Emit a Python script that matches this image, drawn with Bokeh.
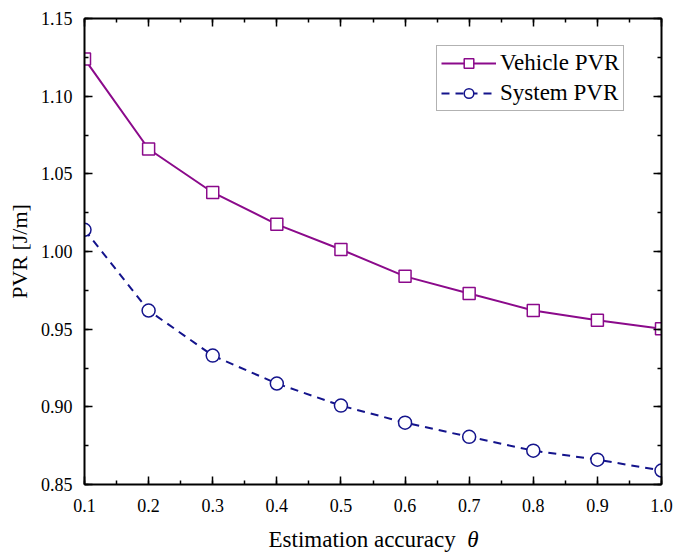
from bokeh.plotting import figure
from bokeh.models import (LinearAxis, FixedTicker, NumeralTickFormatter, Legend, LegendItem,
                          Range1d, CustomJSTickFormatter, Div)
from bokeh.layouts import column
from bokeh.embed import file_html
from bokeh.resources import INLINE

theta = [0.1, 0.2, 0.3, 0.4, 0.5, 0.6, 0.7, 0.8, 0.9, 1.0]
vehicle_pvr = [1.124, 1.066, 1.038, 1.0175, 1.0013, 0.984, 0.973, 0.962, 0.9557, 0.9503]
system_pvr = [1.014, 0.962, 0.933, 0.915, 0.9008, 0.8898, 0.8807, 0.8718, 0.8660, 0.8590]
x_ticks = [0.1, 0.2, 0.3, 0.4, 0.5, 0.6, 0.7, 0.8, 0.9, 1.0]
y_ticks = [0.85, 0.90, 0.95, 1.00, 1.05, 1.10, 1.15]

FONT = "Liberation Serif"
PURPLE = "#8b0a8b"
NAVY = "#14148c"

p = figure(width=689, height=520, output_backend="svg", toolbar_location=None,
           x_range=Range1d(0.1, 1.0), y_range=Range1d(0.85, 1.15))
p.min_border_left = 84
p.min_border_right = 28
p.min_border_top = 18
p.min_border_bottom = 36
p.xgrid.visible = False
p.ygrid.visible = False
p.outline_line_color = None
p.background_fill_color = "white"
p.border_fill_color = "white"
p.margin = 0

def style(ax, labels=True):
    ax.axis_line_color = "black"
    ax.axis_line_width = 2
    ax.major_tick_in = 8
    ax.major_tick_out = 0
    ax.minor_tick_in = 4
    ax.minor_tick_out = 0
    ax.major_tick_line_width = 1.5
    ax.minor_tick_line_width = 1.5
    ax.major_tick_line_color = "black"
    ax.minor_tick_line_color = "black"
    ax.major_label_text_font = FONT
    ax.major_label_text_color = "black"
    ax.major_label_text_font_size = "18px"
    ax.axis_label_text_color = "black"
    if not labels:
        ax.formatter = CustomJSTickFormatter(code="return ''")
        ax.major_label_standoff = 0

xt = FixedTicker(ticks=x_ticks, minor_ticks=[0.1 + 0.05 * i for i in range(19)])
yt = FixedTicker(ticks=y_ticks, minor_ticks=[0.85 + 0.025 * i for i in range(13)])

xa = p.xaxis[0]
xa.ticker = xt
xa.formatter = NumeralTickFormatter(format="0.0")
style(xa)
xa.major_label_standoff = 14

ya = p.yaxis[0]
ya.ticker = yt
ya.formatter = NumeralTickFormatter(format="0.00")
style(ya)
ya.major_label_standoff = 12
ya.axis_label = "PVR [J/m]"
ya.axis_label_text_font = FONT
ya.axis_label_text_font_style = "normal"
ya.axis_label_text_font_size = "22px"
ya.axis_label_standoff = 6

top = LinearAxis(ticker=xt)
style(top, labels=False)
p.add_layout(top, "above")
right = LinearAxis(ticker=yt)
style(right, labels=False)
p.add_layout(right, "right")

l1 = p.line(theta, vehicle_pvr, line_color=PURPLE, line_width=2)
s1 = p.scatter(theta, vehicle_pvr, marker="square", size=12, fill_color="white",
               line_color=PURPLE, line_width=1.5)
l2 = p.line(theta, system_pvr, line_color=NAVY, line_width=2, line_dash="8 6")
s2 = p.scatter(theta, system_pvr, marker="circle", size=13, fill_color="white",
               line_color=NAVY, line_width=1.5)

legend = Legend(items=[LegendItem(label="Vehicle PVR", renderers=[l1, s1]),
                       LegendItem(label="System PVR", renderers=[l2, s2])],
                location=(352, 373))
legend.label_text_font = FONT
legend.label_text_font_size = "23px"
legend.label_text_color = "black"
legend.border_line_color = "#666666"
legend.border_line_width = 1.5
legend.background_fill_alpha = 1
legend.glyph_width = 55
legend.glyph_height = 24
legend.label_height = 24
legend.label_standoff = 4
legend.spacing = 4
legend.padding = 4
legend.margin = 0
p.add_layout(legend, "center")

xlabel = Div(text="Estimation accuracy&nbsp;&nbsp;<i>θ</i>", width=689, height=32, margin=0,
             styles={"font-family": "'Liberation Serif'", "font-size": "23px",
                     "color": "black", "text-align": "center", "line-height": "22px",
                     "box-sizing": "border-box", "padding-left": "58px", "padding-top": "9px",
                     "width": "689px", "height": "32px", "overflow": "visible"})

layout = column(p, xlabel, spacing=0, margin=0)
open("out.html", "w").write(file_html(layout, INLINE))
